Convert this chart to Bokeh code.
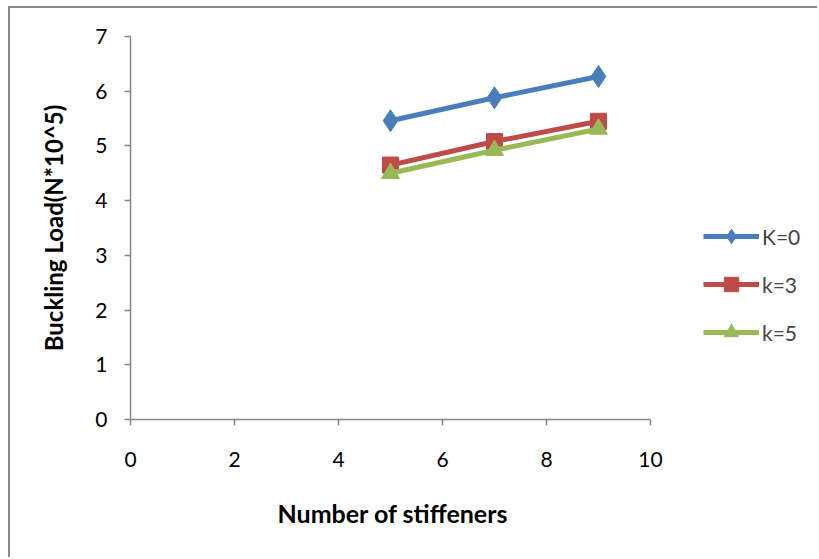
from bokeh.plotting import figure
from bokeh.models import Range1d, FixedTicker, Legend, LegendItem, Title
from bokeh.embed import file_html
from bokeh.resources import INLINE

stiffeners = [5, 7, 9]
k0 = [5.46, 5.88, 6.27]
k3 = [4.65, 5.08, 5.45]
k5 = [4.50, 4.92, 5.31]
series_labels = ["K=0", "k=3", "k=5"]
x_ticks = [0, 2, 4, 6, 8, 10]
y_ticks = [0, 1, 2, 3, 4, 5, 6, 7]
x_title = "Number of stiffeners"
y_title = "Buckling Load(N*10^5)"

FONT = "Lato"
AXIS_COLOR = "#868686"

# layout: the x axis covers 0..10 over 520 px; the frame continues to the right
# (without axis) so the legend can sit inside it.
W, H = 809, 551
BL, BR, BT, BB = 120, 10, 28, 140
axis_px = 520
frame_px = W - BL - BR
x_end = 10 * frame_px / axis_px

p = figure(width=W, height=H, output_backend="svg", toolbar_location=None,
           x_range=Range1d(0, x_end), y_range=Range1d(0, 7),
           min_border_left=BL, min_border_right=BR,
           min_border_top=BT, min_border_bottom=BB)
p.margin = (6, 0, 0, 8)
p.styles = {"border-left": "2px solid #888888", "border-top": "2px solid #888888"}
p.outline_line_color = None
p.xgrid.visible = False
p.ygrid.visible = False

for ax in (p.xaxis[0], p.yaxis[0]):
    ax.axis_line_color = AXIS_COLOR
    ax.axis_line_width = 1.5
    ax.major_tick_line_color = AXIS_COLOR
    ax.major_tick_line_width = 1.5
    ax.major_tick_out = 6
    ax.major_tick_in = 0
    ax.minor_tick_line_color = None
    ax.major_label_text_font = FONT
    ax.major_label_text_font_size = "21px"
    ax.major_label_text_color = "#000000"
    ax.axis_label_text_font = FONT
    ax.axis_label_text_font_style = "bold"
    ax.axis_label_text_font_size = "24px"
    ax.axis_label_text_color = "#000000"

p.xaxis.ticker = FixedTicker(ticks=x_ticks)
p.xaxis.bounds = (0, 10)
p.yaxis.ticker = FixedTicker(ticks=y_ticks)
p.yaxis.axis_label = y_title
p.xaxis.major_label_standoff = 26
p.yaxis.major_label_standoff = 17
p.yaxis.axis_label_standoff = 24

# x title centred under the axis part (0..10), not under the whole frame
xt = Title(text=x_title, align="left", offset=147, standoff=53,
           text_font=FONT, text_font_style="bold", text_font_size="25px",
           text_color="#000000")
p.add_layout(xt, "below")

blue = "#4A7EBB"
red = "#BE4B48"
green = "#98B954"

l0 = p.line(stiffeners, k0, line_color=blue, line_width=5)
s0 = p.scatter(stiffeners, k0, marker="diamond", size=22, fill_color=blue, line_color=blue)
l3 = p.line(stiffeners, k3, line_color=red, line_width=5)
s3 = p.scatter(stiffeners, k3, marker="square", size=16, fill_color=red, line_color=red)
l5 = p.line(stiffeners, k5, line_color=green, line_width=5)
s5 = p.scatter(stiffeners, k5, marker="triangle", size=18, fill_color=green, line_color=green)

legend = Legend(items=[
    LegendItem(label=series_labels[0], renderers=[l0, s0]),
    LegendItem(label=series_labels[1], renderers=[l3, s3]),
    LegendItem(label=series_labels[2], renderers=[l5, s5]),
], location=(573, 69), orientation="vertical",
    glyph_width=56, glyph_height=36, spacing=12, padding=0, margin=0,
    label_standoff=3, label_text_font=FONT, label_text_font_size="21px",
    border_line_alpha=0, background_fill_alpha=0)
p.add_layout(legend, "center")

open("out.html", "w").write(file_html(p, INLINE))
